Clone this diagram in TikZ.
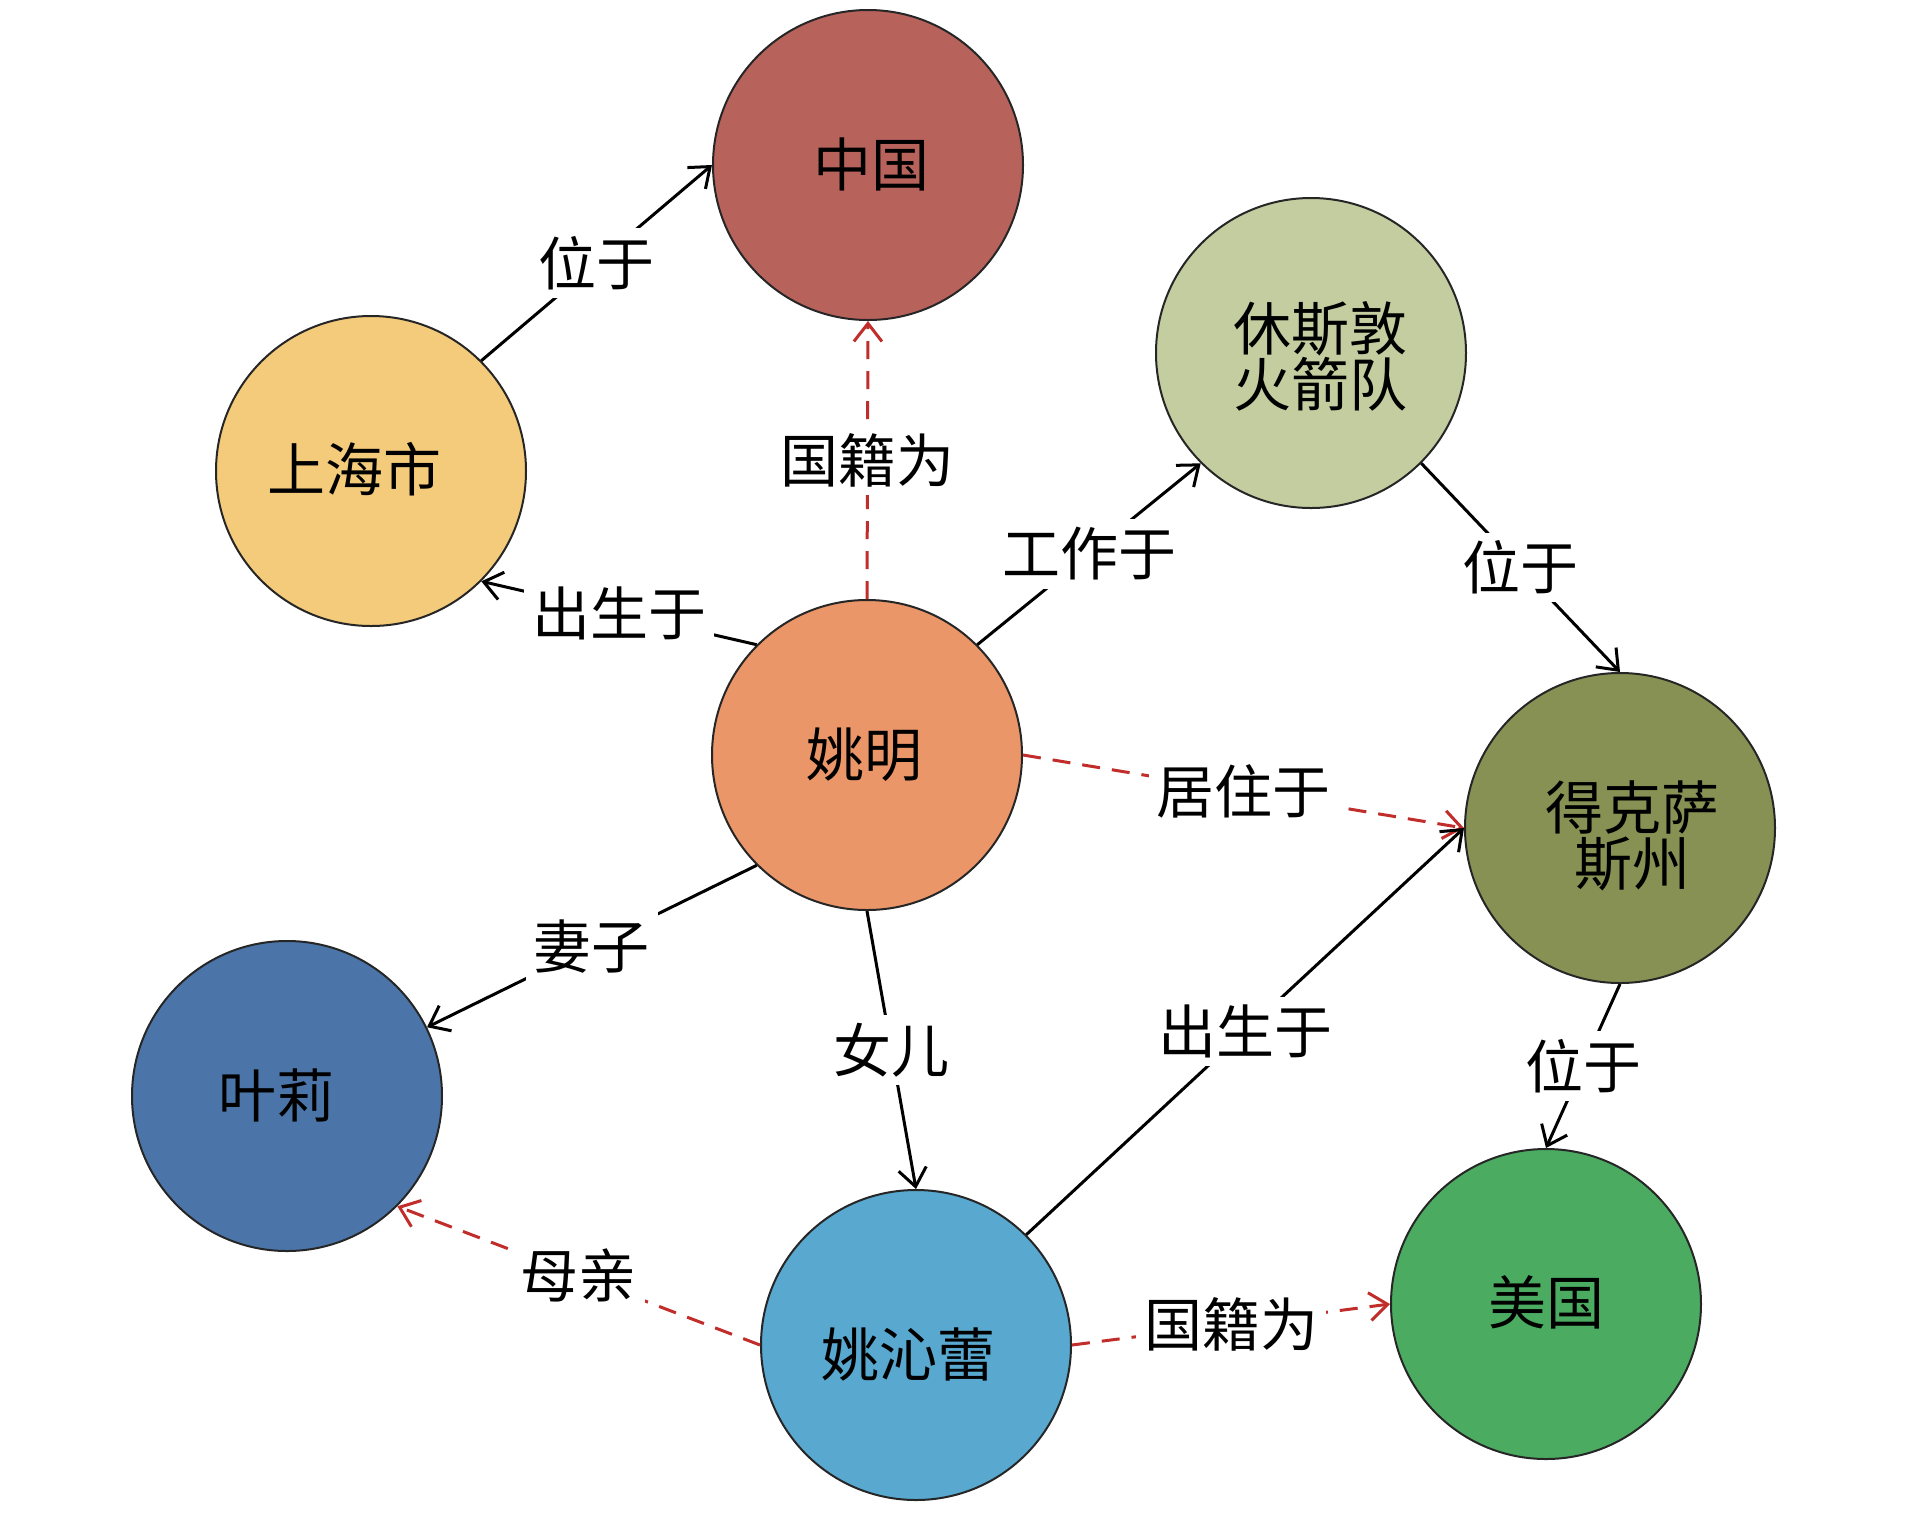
\documentclass[tikz,border=0pt]{standalone}
\usepackage{fontspec}
\setmainfont{Noto Sans CJK SC}
\usetikzlibrary{arrows.meta}
\definecolor{cChina}{RGB}{184,98,92}
\definecolor{cSH}{RGB}{243,203,123}
\definecolor{cHou}{RGB}{195,205,160}
\definecolor{cYM}{RGB}{234,150,105}
\definecolor{cTX}{RGB}{135,145,83}
\definecolor{cYL}{RGB}{75,117,169}
\definecolor{cYQ}{RGB}{88,168,208}
\definecolor{cUS}{RGB}{75,172,97}
\definecolor{cRed}{RGB}{192,45,42}
\begin{document}
\begin{tikzpicture}[x=0.5pt,y=-0.5pt,
  ent/.style={circle, draw=black!85, line width=1pt, minimum size=155pt, inner sep=0pt},
  etxt/.style={align=center, inner sep=0pt, font=\fontsize{29}{28}\selectfont, text=black},
  lbl/.style={fill=white, inner sep=4pt, font=\fontsize{29}{30}\selectfont, text=black},
  rel/.style={line width=1.5pt, draw=black, -{Straight Barb[length=9pt,width=14pt]}},
  relr/.style={rel, draw=cRed, dash pattern=on 9pt off 6pt}]
\useasboundingbox (0,0) rectangle (1913,1512);
\node[ent, fill=cChina] (zg) at (868,165) {};
\node[ent, fill=cSH] (sh) at (371,471) {};
\node[ent, fill=cHou] (hou) at (1311,353) {};
\node[ent, fill=cYM] (ym) at (867,755) {};
\node[ent, fill=cTX] (tx) at (1620,828) {};
\node[ent, fill=cYL] (yl) at (287,1096) {};
\node[ent, fill=cYQ] (yq) at (916,1345) {};
\node[ent, fill=cUS] (us) at (1546,1304) {};

\node[etxt] (tzg) at (871,164) {中国};
\node[etxt] (tsh) at (354,469) {上海市};
\node[etxt] (thou) at (1320,356) {休斯敦\\火箭队};
\node[etxt] (tym) at (864,755) {姚明};
\node[etxt] (ttx) at (1632,836) {得克萨\\斯州};
\node[etxt] (tyl) at (276,1095) {叶莉};
\node[etxt] (tyq) at (908,1354) {姚沁蕾};
\node[etxt] (tus) at (1546,1302) {美国};

\draw[rel] (sh.45) -- node[lbl] {位于} (zg.west);
\draw[relr] (ym.north) -- node[lbl] {国籍为} (zg.south);
\draw[rel] (ym.135) -- node[lbl] {出生于} (sh.-45);
\draw[rel] (ym.45) -- node[lbl] {工作于} (hou.225);
\draw[rel] (hou.-45) -- node[lbl] {位于} (tx.north);
\draw[relr] (ym.east) -- node[lbl] {居住于} (tx.west);
\draw[rel] (ym.225) -- node[lbl] {妻子} (yl);
\draw[rel] (ym.south) -- node[lbl] {女儿} (yq.north);
\draw[relr] (yq.west) -- node[lbl] {母亲} (yl.-45);
\draw[rel] (yq.45) -- node[lbl] {出生于} (tx.west);
\draw[rel] (tx.south) -- node[lbl] {位于} (us.north);
\draw[relr] (yq.east) -- node[lbl] {国籍为} (us.west);
\end{tikzpicture}
\end{document}
